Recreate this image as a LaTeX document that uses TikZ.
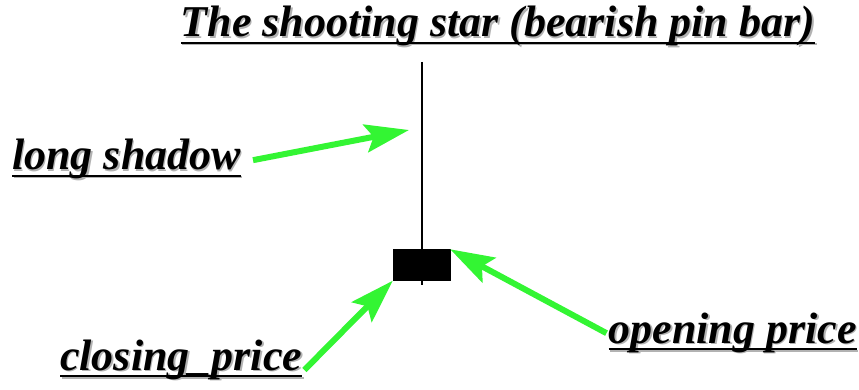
\documentclass[tikz,border=0pt]{standalone}
\usepackage{fontspec}
\setmainfont{Liberation Serif}
\usepackage{xcolor}
\usepackage{tikz}
\usetikzlibrary{arrows.meta}
\usetikzlibrary{positioning}
\definecolor{arrowgreen}{RGB}{51,245,51}
\newcommand{\ulbar}[1]{\setbox0\hbox{#1}\rlap{\rule[-7pt]{\wd0}{2pt}}\box0}
\newcommand{\shadowed}[1]{\leavevmode\rlap{\color{black!30}\kern1.5pt\raisebox{-1.5pt}{\ulbar{#1}}}\ulbar{#1}}
\begin{document}
\begin{tikzpicture}[x=1pt,y=-1pt,
  every node/.style={inner sep=2pt,font=\fontsize{44}{50}\selectfont\bfseries\itshape},
  pointer/.style={draw=arrowgreen,line width=6pt,-{Stealth[length=44pt,width=28pt,inset=8pt]}},
  candle/.style={fill=black,draw=black,minimum width=57pt,minimum height=31pt,inner sep=0pt}]
\useasboundingbox (0,0) rectangle (859,390);
\node[anchor=base] (title) at (498,37) {\shadowed{The shooting star (bearish pin bar)}};
\coordinate (high) at (422,62);
\coordinate (low) at (422,285);
\draw[line width=1.6pt] (high) -- (low);
\node[candle] (body) at (421.5,265) {};
\coordinate (wick) at (409,130);
\node[anchor=base west] (lshadow) at (10,170) {\shadowed{long shadow}};
\node[anchor=base west] (cprice) at (58,370) {\shadowed{closing\_price}};
\node[anchor=base east] (oprice) at (859,343) {\shadowed{opening price}};
\draw[pointer] ([xshift=10pt]lshadow.east) -- (wick);
\draw[pointer] (cprice.base east) -- (body.south west);
\draw[pointer] (oprice.west) -- (body.north east);
\end{tikzpicture}
\end{document}
